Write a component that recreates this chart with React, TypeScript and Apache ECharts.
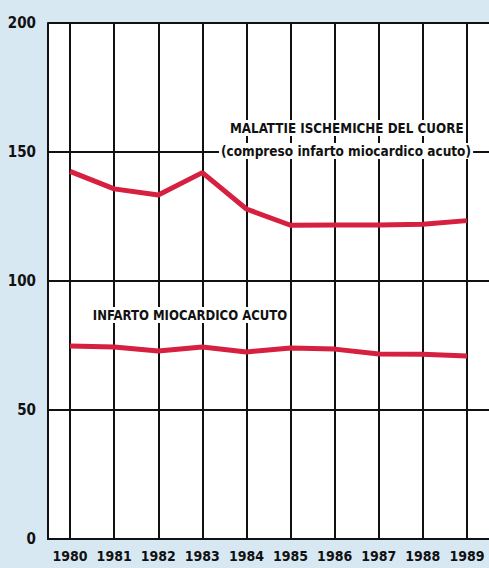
import React, { useEffect, useRef } from "react";
import * as echarts from "echarts";

const years = ["1980", "1981", "1982", "1983", "1984", "1985", "1986", "1987", "1988", "1989"];
const ischemiche = [142.5, 135.7, 133.3, 142.0, 127.9, 121.6, 121.7, 121.7, 122.0, 123.4];
const infarto = [74.8, 74.4, 72.9, 74.4, 72.5, 74.0, 73.6, 71.7, 71.6, 70.9];
const yTicks = [0, 50, 100, 150, 200];

const FONT = '"DejaVu Sans Condensed", "Liberation Sans Narrow", sans-serif';

export default function App() {
  const ref = useRef<HTMLDivElement>(null);
  useEffect(() => {
    const chart = echarts.init(ref.current!, null, { renderer: "svg" });
    chart.setOption({
      animation: false,
      backgroundColor: "#d7e8f3",
      grid: { left: 48, right: -3, top: 23, bottom: 29, containLabel: false, show: true, backgroundColor: "#ffffff", borderWidth: 0 },
      xAxis: {
        type: "category",
        data: years,
        boundaryGap: true,
        axisLine: { show: true, lineStyle: { color: "#111", width: 2 } },
        axisTick: { show: false },
        splitLine: { show: false },
        axisLabel: { interval: 0, color: "#111", fontFamily: FONT, fontWeight: "bold", fontSize: 14, margin: 10 },
      },
      yAxis: {
        type: "value",
        min: yTicks[0],
        max: yTicks[yTicks.length - 1],
        interval: 50,
        axisLine: { show: true, lineStyle: { color: "#111", width: 2 } },
        axisTick: { show: false },
        splitLine: { show: true, lineStyle: { color: "#111", width: 2 } },
        axisLabel: { color: "#111", fontFamily: FONT, fontWeight: "bold", fontSize: 15, margin: 12 },
      },
      series: [
        {
          type: "line",
          data: ischemiche,
          symbol: "none",
          z: 5,
          lineStyle: { color: "#d6203f", width: 5 },
          markLine: {
            silent: true,
            symbol: "none",
            label: { show: false },
            lineStyle: { color: "#111", width: 2, type: "solid" },
            data: years.map((y) => ({ xAxis: y })),
            z: 1,
          },
        },
        {
          type: "line",
          data: infarto,
          symbol: "none",
          z: 5,
          lineStyle: { color: "#d6203f", width: 5 },
        },
      ],
      graphic: [
        {
          type: "text",
          x: 228,
          y: 120,
          scaleX: 0.95,
          z: 10,
          style: {
            text: "MALATTIE ISCHEMICHE DEL CUORE",
            fill: "#111",
            font: `bold 14px ${FONT}`,
            backgroundColor: "#ffffff",
            padding: [1, 2],
          },
        },
        {
          type: "text",
          x: 219,
          y: 143,
          scaleX: 0.965,
          z: 10,
          style: {
            text: "(compreso infarto miocardico acuto)",
            fill: "#111",
            font: `bold 14px ${FONT}`,
            backgroundColor: "#ffffff",
            padding: [1, 2],
          },
        },
        {
          type: "text",
          x: 91,
          y: 307,
          scaleX: 0.93,
          z: 10,
          style: {
            text: "INFARTO MIOCARDICO ACUTO",
            fill: "#111",
            font: `bold 14px ${FONT}`,
            backgroundColor: "#ffffff",
            padding: [1, 2],
          },
        },
      ],
    });
    return () => chart.dispose();
  }, []);
  return <div ref={ref} style={{ position: "absolute", left: 0, top: 0, width: 489, height: 568 }} />;
}
